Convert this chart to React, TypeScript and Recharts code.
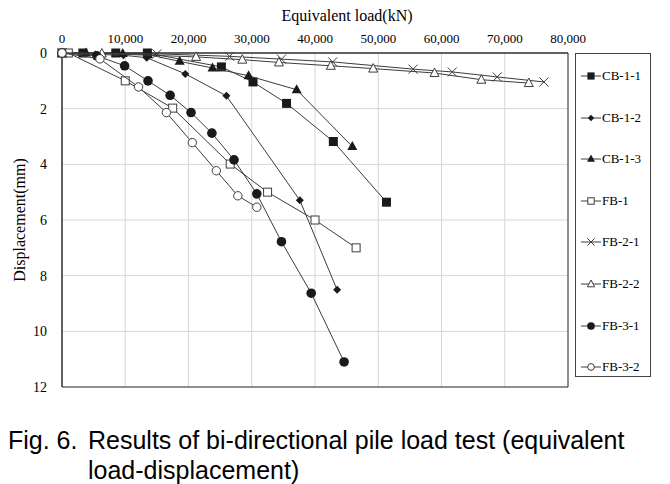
import React from "react";
import {
  ScatterChart,
  Scatter,
  XAxis,
  YAxis,
  CartesianGrid,
  ReferenceArea,
} from "recharts";

// equivalent load (kN) / displacement (mm)
const cb11Load = [0, 3300, 8500, 13500, 25200, 30200, 35500, 42900, 51300];
const cb11Disp = [0, 0, 0, 0, 0.5, 1.04, 1.81, 3.18, 5.36];

const cb12Load = [0, 5300, 9700, 13400, 19500, 26000, 37600, 43500];
const cb12Disp = [0, 0.05, 0.08, 0.17, 0.75, 1.54, 5.29, 8.51];

const cb13Load = [0, 3800, 9600, 13600, 18600, 23800, 29500, 37100, 45900];
const cb13Disp = [0, 0, 0.02, 0.06, 0.3, 0.54, 0.82, 1.32, 3.36];

const fb1Load = [1000, 10000, 17500, 26600, 32500, 40000, 46500];
const fb1Disp = [0, 1.0, 1.98, 3.99, 5.0, 6.0, 7.0];

const fb21Load = [0, 15000, 26500, 34700, 42800, 55500, 61700, 68800, 76200];
const fb21Disp = [0, 0.03, 0.12, 0.22, 0.32, 0.58, 0.68, 0.86, 1.04];

const fb22Load = [0, 6300, 21200, 28500, 34300, 42500, 49200, 58900, 66300, 73800];
const fb22Disp = [0, 0.02, 0.14, 0.24, 0.34, 0.46, 0.56, 0.72, 0.96, 1.08];

const fb31Load = [0, 5500, 9900, 13600, 17100, 20400, 23700, 27200, 30800, 34700, 39400, 44600];
const fb31Disp = [0, 0.1, 0.46, 1.0, 1.52, 2.14, 2.88, 3.84, 5.06, 6.78, 8.63, 11.1];

const fb32Load = [0, 6000, 12100, 16500, 20600, 24400, 27800, 30800];
const fb32Disp = [0, 0.21, 1.22, 2.14, 3.22, 4.23, 5.13, 5.54];

const xTicks = [0, 10000, 20000, 30000, 40000, 50000, 60000, 70000, 80000];
const yTicks = [0, 2, 4, 6, 8, 10, 12];

type Kind =
  | "square"
  | "diamond"
  | "triangle"
  | "openSquare"
  | "cross"
  | "openTriangle"
  | "circle"
  | "openCircle";

const zip = (xs: number[], ys: number[]) => xs.map((x, i) => ({ x, y: ys[i] }));

const series: { name: string; kind: Kind; data: { x: number; y: number }[] }[] = [
  { name: "CB-1-1", kind: "square", data: zip(cb11Load, cb11Disp) },
  { name: "CB-1-2", kind: "diamond", data: zip(cb12Load, cb12Disp) },
  { name: "CB-1-3", kind: "triangle", data: zip(cb13Load, cb13Disp) },
  { name: "FB-1", kind: "openSquare", data: zip(fb1Load, fb1Disp) },
  { name: "FB-2-1", kind: "cross", data: zip(fb21Load, fb21Disp) },
  { name: "FB-2-2", kind: "openTriangle", data: zip(fb22Load, fb22Disp) },
  { name: "FB-3-1", kind: "circle", data: zip(fb31Load, fb31Disp) },
  { name: "FB-3-2", kind: "openCircle", data: zip(fb32Load, fb32Disp) },
];

const INK = "#1a1a1a";
const LINE = "#3c3c3c";
const serif = "Liberation Serif, Tinos, Times New Roman, Times, DejaVu Serif, serif";

function Marker({ kind, cx, cy, s = 1 }: { kind: Kind; cx: number; cy: number; s?: number }) {
  if (cx == null || cy == null) return null;
  switch (kind) {
    case "square":
      return <rect x={cx - 4.5 * s} y={cy - 4.5 * s} width={9 * s} height={9 * s} fill={INK} />;
    case "diamond":
      return (
        <polygon
          points={`${cx},${cy - 4 * s} ${cx + 4 * s},${cy} ${cx},${cy + 4 * s} ${cx - 4 * s},${cy}`}
          fill={INK}
        />
      );
    case "triangle":
      return (
        <polygon
          points={`${cx},${cy - 5.5 * s} ${cx + 5 * s},${cy + 3.5 * s} ${cx - 5 * s},${cy + 3.5 * s}`}
          fill={INK}
        />
      );
    case "openSquare":
      return (
        <rect x={cx - 4 * s} y={cy - 4 * s} width={8 * s} height={8 * s} fill="#fff" stroke={LINE} strokeWidth={1} />
      );
    case "cross":
      return (
        <g stroke={LINE} strokeWidth={1}>
          <line x1={cx - 4.5 * s} y1={cy - 4.5 * s} x2={cx + 4.5 * s} y2={cy + 4.5 * s} />
          <line x1={cx - 4.5 * s} y1={cy + 4.5 * s} x2={cx + 4.5 * s} y2={cy - 4.5 * s} />
        </g>
      );
    case "openTriangle":
      return (
        <polygon
          points={`${cx},${cy - 5 * s} ${cx + 4.5 * s},${cy + 3.5 * s} ${cx - 4.5 * s},${cy + 3.5 * s}`}
          fill="#fff"
          stroke={LINE}
          strokeWidth={1}
        />
      );
    case "circle":
      return <circle cx={cx} cy={cy} r={4.8 * s} fill={INK} />;
    case "openCircle":
      return <circle cx={cx} cy={cy} r={4.2 * s} fill="#fff" stroke={LINE} strokeWidth={1} />;
  }
  return null;
}

function LegendBox() {
  return (
    <div
      style={{
        position: "absolute",
        left: 575,
        top: 53,
        width: 76,
        height: 324,
        border: "1px solid #444",
        boxSizing: "border-box",
        fontFamily: serif,
        fontSize: 13,
        color: "#000",
      }}
    >
      {series.map((s, i) => (
        <div
          key={s.name}
          style={{
            position: "absolute",
            left: 4,
            top: 22 + i * 41.6 - 9,
            height: 18,
            display: "flex",
            alignItems: "center",
            whiteSpace: "nowrap",
          }}
        >
          <svg width={22} height={18} style={{ display: "block" }}>
            <line x1={1} y1={9} x2={21} y2={9} stroke={LINE} strokeWidth={1} />
            <Marker kind={s.kind} cx={11} cy={9} s={0.8} />
          </svg>
          <span>{s.name}</span>
        </div>
      ))}
    </div>
  );
}

export default function App() {
  return (
    <div style={{ position: "absolute", left: 0, top: 0, width: 670, height: 484, background: "#fff" }}>
      <ScatterChart width={670} height={400} margin={{ top: 23, right: 102, bottom: 13, left: 22 }}>
        <CartesianGrid stroke="#d6d6d6" strokeWidth={1} />
        <XAxis
          type="number"
          dataKey="x"
          orientation="top"
          height={30}
          domain={[0, 80000]}
          ticks={xTicks}
          tickFormatter={(v: number) => v.toLocaleString("en-US")}
          tickLine={false}
          axisLine={{ stroke: "#333" }}
          tickSize={6}
          tickMargin={4}
          tick={{ fontFamily: serif, fontSize: 13, fill: "#000" }}
          label={{
            value: "Equivalent load(kN)",
            position: "top",
            offset: 2,
            dx: 32,
            fill: "#000",
            style: { fontFamily: serif, fontSize: 16, fill: "#000" },
          }}
        />
        <YAxis
          type="number"
          dataKey="y"
          reversed
          width={40}
          domain={[0, 12]}
          ticks={yTicks}
          tickLine={false}
          axisLine={{ stroke: "#333" }}
          tickSize={6}
          tickMargin={9}
          tick={{ fontFamily: serif, fontSize: 14, fill: "#000" }}
          label={{
            value: "Displacement(mm)",
            angle: -90,
            position: "insideLeft",
            offset: -3,
            fill: "#000",
            style: { textAnchor: "middle", fontFamily: serif, fontSize: 16, fill: "#000" },
          }}
        />
        {series.map((s) => (
          <Scatter
            key={s.name}
            name={s.name}
            data={s.data}
            line={{ stroke: LINE, strokeWidth: 1 }}
            lineType="joint"
            isAnimationActive={false}
            shape={(p: any) => <Marker kind={s.kind} cx={p.cx} cy={p.cy} />}
          />
        ))}
        <ReferenceArea
          x1={0}
          x2={80000}
          y1={0}
          y2={12}
          fill="none"
          stroke="#333"
          strokeWidth={1}
          ifOverflow="visible"
        />
      </ScatterChart>
      <LegendBox />
      <div
        style={{
          position: "absolute",
          left: 8,
          top: 425,
          display: "flex",
          fontFamily: "Liberation Sans, Arial, sans-serif",
          fontSize: 25,
          lineHeight: "30px",
          color: "#000",
          whiteSpace: "nowrap",
        }}
      >
        <span style={{ width: 80 }}>Fig. 6.</span>
        <span>
          Results of bi-directional pile load test (equivalent
          <br />
          load-displacement)
        </span>
      </div>
    </div>
  );
}
